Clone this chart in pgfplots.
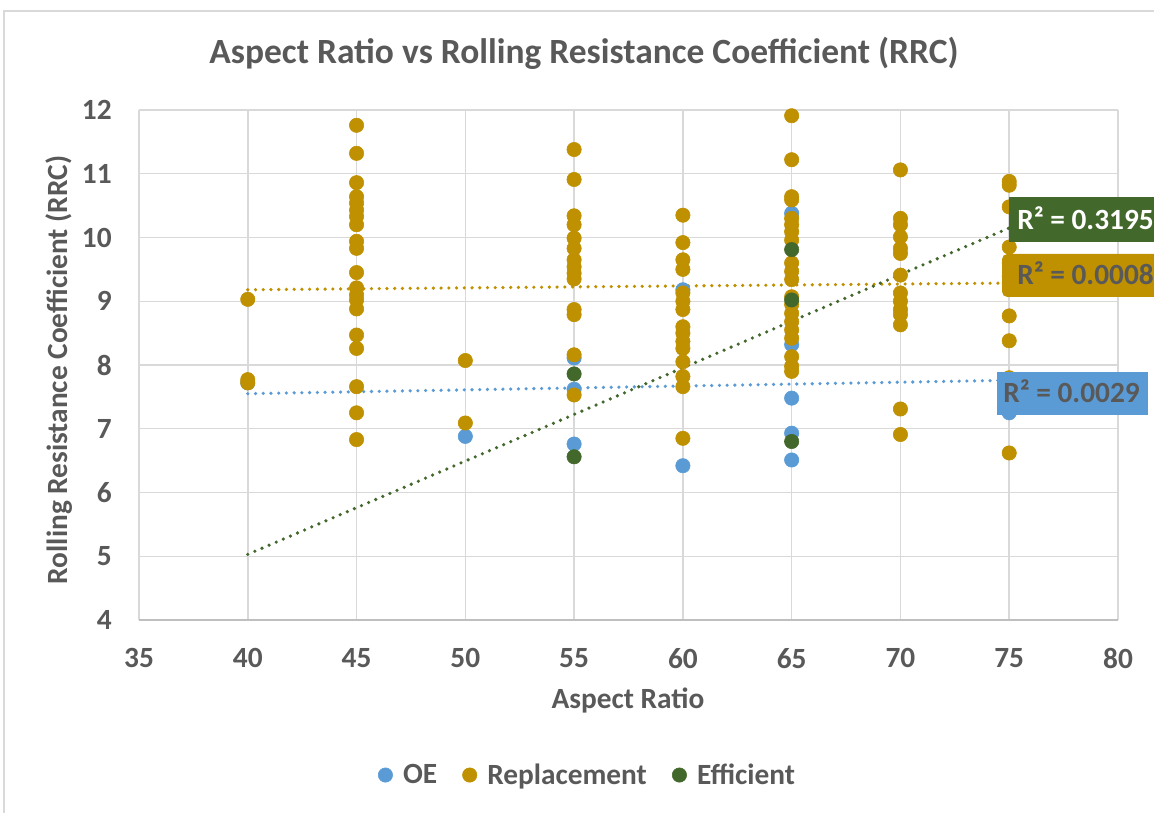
\documentclass[border=0pt]{standalone}
\usepackage{pgfplots}
\pgfplotsset{compat=1.18}
\usepackage{fontspec}
\setmainfont{Carlito}
\definecolor{oe}{HTML}{5B9BD5}
\definecolor{rep}{HTML}{BF9000}
\definecolor{eff}{HTML}{43682B}
\definecolor{txt}{HTML}{595959}
\definecolor{grd}{HTML}{D9D9D9}
\definecolor{axl}{HTML}{BFBFBF}
\begin{document}
\begin{tikzpicture}
\useasboundingbox (0,0) rectangle (865.5pt,609.75pt);
\clip (0,0) rectangle (865.5pt,609.75pt);
\draw[grd, line width=1.2pt] (3pt,-10pt) rectangle (890pt,601.5pt);
\begin{axis}[at={(104.25pt,144.75pt)}, anchor=south west, scale only axis,
  width=734.25pt, height=382.5pt,
  xmin=35, xmax=80, ymin=4, ymax=12, xtick distance=5, ytick distance=1,
  grid=major, grid style={grd, line width=1.1pt},
  axis line style={draw=none}, major tick length=0pt,
  tick label style={font=\fontsize{22}{26}\selectfont\bfseries, text=txt, inner sep=0pt},
  /pgf/number format/assume math mode=true,
  xticklabel style={anchor=north, yshift=-21pt},
  yticklabel style={anchor=east, xshift=-20.25pt},
  clip=false,
  legend style={at={(0.4586,-0.304)}, anchor=center, draw=none, fill=none,
    font=\fontsize{22}{26}\selectfont\bfseries, text=txt,
    /tikz/every even column/.append style={column sep=17pt}},
  legend columns=-1, legend cell align=left,
  legend image code/.code={\draw[#1] plot coordinates {(0pt,0pt)}; \path (11pt,0pt);},
]
\draw[axl, line width=1.2pt] (axis cs:35,4) -- (axis cs:80,4);
\addplot[only marks, mark=*, mark size=5.4pt, mark options={fill=oe, draw=oe}] coordinates {
(40,7.72) (50,6.88) (55,8.11) (55,7.62) (55,6.76) (60,9.18) (60,6.42)
(65,10.38) (65,8.32) (65,7.48) (65,6.93) (65,6.51) (75,7.25)
};
\addlegendentry{OE}
\addplot[only marks, mark=*, mark size=5.4pt, mark options={fill=rep, draw=rep}] coordinates {
(40,9.03) (40,7.77) (40,7.72)
(45,11.76) (45,11.32) (45,10.86) (45,10.64) (45,10.54) (45,10.43) (45,10.33) (45,10.20)
(45,9.94) (45,9.83) (45,9.45) (45,9.21) (45,9.10) (45,9.02) (45,8.88) (45,8.47) (45,8.26)
(45,7.66) (45,7.25) (45,6.83)
(50,8.07) (50,7.09)
(55,11.38) (55,10.91) (55,10.34) (55,10.20) (55,9.99) (55,9.83) (55,9.65) (55,9.54)
(55,9.44) (55,9.35) (55,8.87) (55,8.79) (55,8.16) (55,7.53)
(60,10.35) (60,9.92) (60,9.65) (60,9.50) (60,9.13) (60,9.00) (60,8.87) (60,8.60) (60,8.50)
(60,8.37) (60,8.26) (60,8.05) (60,7.82) (60,7.66) (60,6.85)
(65,11.91) (65,11.22) (65,10.64) (65,10.59) (65,10.30) (65,10.20) (65,10.09) (65,9.96)
(65,9.60) (65,9.47) (65,9.34) (65,9.07) (65,8.95) (65,8.81) (65,8.68) (65,8.55) (65,8.42)
(65,8.13) (65,7.98) (65,7.90)
(70,11.06) (70,10.30) (70,10.20) (70,10.01) (70,9.83) (70,9.75) (70,9.41) (70,9.13)
(70,9.00) (70,8.87) (70,8.79) (70,8.63) (70,7.31) (70,6.91)
(75,10.88) (75,10.82) (75,10.48) (75,9.85) (75,9.60) (75,9.39) (75,9.28) (75,8.77)
(75,8.38) (75,7.80) (75,6.62)
};
\addlegendentry{Replacement}
\addplot[only marks, mark=*, mark size=5.4pt, mark options={fill=eff, draw=eff}] coordinates {
(55,7.86) (55,6.56) (65,9.81) (65,9.02) (65,6.80)
};
\addlegendentry{Efficient}
\addplot[forget plot, oe, line width=2.7pt, line cap=round, dash pattern=on 0pt off 5.8pt] coordinates {(40,7.55) (75,7.76)};
\addplot[forget plot, rep, line width=2.7pt, line cap=round, dash pattern=on 0pt off 5.8pt] coordinates {(40,9.18) (75,9.285)};
\addplot[forget plot, eff, line width=2.7pt, line cap=round, dash pattern=on 0pt off 5.8pt] coordinates {(40,5.03) (75,10.15)};
\end{axis}
\node[anchor=base, text=txt, font=\fontsize{26.6}{31}\selectfont\bfseries] at (438pt,562pt) {Aspect Ratio vs Rolling Resistance Coefficient (RRC)};
\node[anchor=base, text=txt, font=\fontsize{22}{26}\selectfont\bfseries] at (471pt,78pt) {Aspect Ratio};
\node[anchor=base, rotate=90, text=txt, font=\fontsize{22}{26}\selectfont\bfseries] at (50.25pt,332.25pt) {Rolling Resistance Coefficient (RRC)};
% R^2 labels
\fill[eff] (756.75pt,428.25pt) rectangle (880pt,462pt);
\node[anchor=base west, inner sep=0pt, text=white, font=\fontsize{22}{26}\selectfont\bfseries] at (762.75pt,437.25pt) {R² = 0.3195};
\fill[rep, rounded corners=4pt] (751.5pt,387pt) rectangle (880pt,419.25pt);
\node[anchor=base west, inner sep=0pt, text=txt, font=\fontsize{22}{26}\selectfont\bfseries] at (762.75pt,396pt) {R² = 0.0008};
\fill[oe] (747.75pt,298.5pt) rectangle (861pt,330.75pt);
\node[anchor=base west, inner sep=0pt, text=txt, font=\fontsize{22}{26}\selectfont\bfseries] at (752.25pt,307.5pt) {R² = 0.0029};
\end{tikzpicture}
\end{document}
